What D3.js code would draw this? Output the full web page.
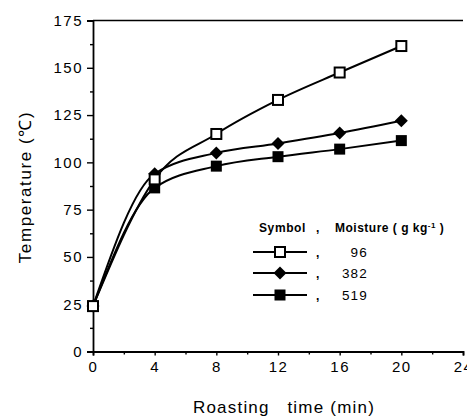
<!DOCTYPE html>
<html><head><meta charset="utf-8">
<script src="https://cdn.jsdelivr.net/npm/d3@7"></script>
<style>body{margin:0;background:#fff}svg{display:block}text{font-family:"Liberation Sans",Arial,sans-serif;fill:#000}</style>
</head><body><svg id="c" width="467" height="418"></svg>
<script>
const times = [0, 4, 8, 12, 16, 20];
const m96 = [24, 91, 115, 133, 147.5, 161.5];
const m382 = [24, 94, 105, 110, 115.5, 122];
const m519 = [24, 86.5, 98, 103, 107, 111.5];
const xTicks = [0, 4, 8, 12, 16, 20, 24];
const yTicks = [0, 25, 50, 75, 100, 125, 150, 175];
const legendLabels = ["96", "382", "519"];

const svg = d3.select("#c");
const x = d3.scaleLinear().domain([0, 24]).range([93, 463]);
const y = d3.scaleLinear().domain([0, 175]).range([351.5, 20.5]);

// top border
svg.append("line").attr("x1", x(0)).attr("x2", x(24)).attr("y1", y(175)).attr("y2", y(175)).attr("stroke", "#000").attr("stroke-width", 1.4);

const xa = svg.append("g").attr("transform", `translate(0,${y(0)})`)
  .call(d3.axisBottom(x).tickValues(xTicks).tickSize(4).tickPadding(6).tickFormat(d3.format("d")));
const xm = svg.append("g").attr("transform", `translate(0,${y(0)})`)
  .call(d3.axisBottom(x).tickValues(d3.range(2, 24, 4)).tickSize(3).tickFormat(""));
const ya = svg.append("g").attr("transform", `translate(${x(0)},0)`)
  .call(d3.axisLeft(y).tickValues(yTicks).tickSize(6).tickPadding(4));
const ym = svg.append("g").attr("transform", `translate(${x(0)},0)`)
  .call(d3.axisLeft(y).tickValues(d3.range(12.5, 175, 25)).tickSize(3).tickFormat(""));
[xa, xm, ya, ym].forEach(g => {
  g.select(".domain").attr("stroke-width", 1.8);
  g.selectAll(".tick line").attr("stroke-width", 1.4);
});
xm.select(".domain").remove(); ym.select(".domain").remove();
xa.selectAll("text").attr("font-size", 15).attr("letter-spacing", 1.5);
ya.selectAll("text").attr("font-size", 15).attr("letter-spacing", 1.5);

// axis titles
svg.append("text").attr("x", 284).attr("y", 413).attr("text-anchor", "middle").attr("font-size", 17)
  .attr("letter-spacing", 1.2).attr("xml:space", "preserve").text("Roasting   time (min)");
svg.append("text").attr("transform", "translate(31,187) rotate(-90)").attr("text-anchor", "middle")
  .attr("font-size", 17).attr("letter-spacing", 1.6).text("Temperature (℃)");

const line = d3.line().x((d, i) => x(times[i])).y(d => y(d)).curve(d3.curveMonotoneX);
const series = [m519, m382, m96];
const kinds = ["fsq", "dia", "osq"];
series.forEach(s => {
  svg.append("path").attr("d", line(s)).attr("fill", "none").attr("stroke", "#000").attr("stroke-width", 2);
});
function marker(g, kind, cx, cy) {
  if (kind === "osq") g.append("rect").attr("x", cx - 5).attr("y", cy - 5).attr("width", 10).attr("height", 10).attr("fill", "#fff").attr("stroke", "#000").attr("stroke-width", 2);
  else if (kind === "fsq") g.append("rect").attr("x", cx - 5.5).attr("y", cy - 5.5).attr("width", 11).attr("height", 11).attr("fill", "#000");
  else g.append("path").attr("d", `M${cx},${cy - 6.5}L${cx + 6.5},${cy}L${cx},${cy + 6.5}L${cx - 6.5},${cy}Z`).attr("fill", "#000");
}
series.forEach((s, k) => s.forEach((v, i) => marker(svg, kinds[k], x(times[i]), y(v))));

// legend
const lg = svg.append("g").attr("font-weight", "bold");
lg.append("text").attr("x", 259).attr("y", 232).attr("font-size", 12).attr("letter-spacing", 0.6).text("Symbol");
lg.append("text").attr("x", 316).attr("y", 232).attr("font-size", 12).text(",");
const mt = lg.append("text").attr("x", 335).attr("y", 232).attr("font-size", 12).attr("letter-spacing", 0.5).attr("xml:space", "preserve").text("Moisture ( g kg");
mt.append("tspan").attr("dy", -4).attr("font-size", 8).text("-1");
mt.append("tspan").attr("dy", 4).text(" )");
const lkinds = ["osq", "dia", "fsq"];
[252, 273, 295].forEach((ly, i) => {
  lg.append("line").attr("x1", 253).attr("x2", 307).attr("y1", ly).attr("y2", ly).attr("stroke", "#000").attr("stroke-width", 1.8);
  marker(lg, lkinds[i], 280, ly);
  lg.append("text").attr("x", 316).attr("y", ly + 5).attr("font-size", 12).text(",");
  lg.append("text").attr("x", 368).attr("y", ly + 5).attr("font-size", 13.5).attr("font-weight", "normal").attr("text-anchor", "end").attr("letter-spacing", 1.2).text(legendLabels[i]);
});
</script></body></html>
